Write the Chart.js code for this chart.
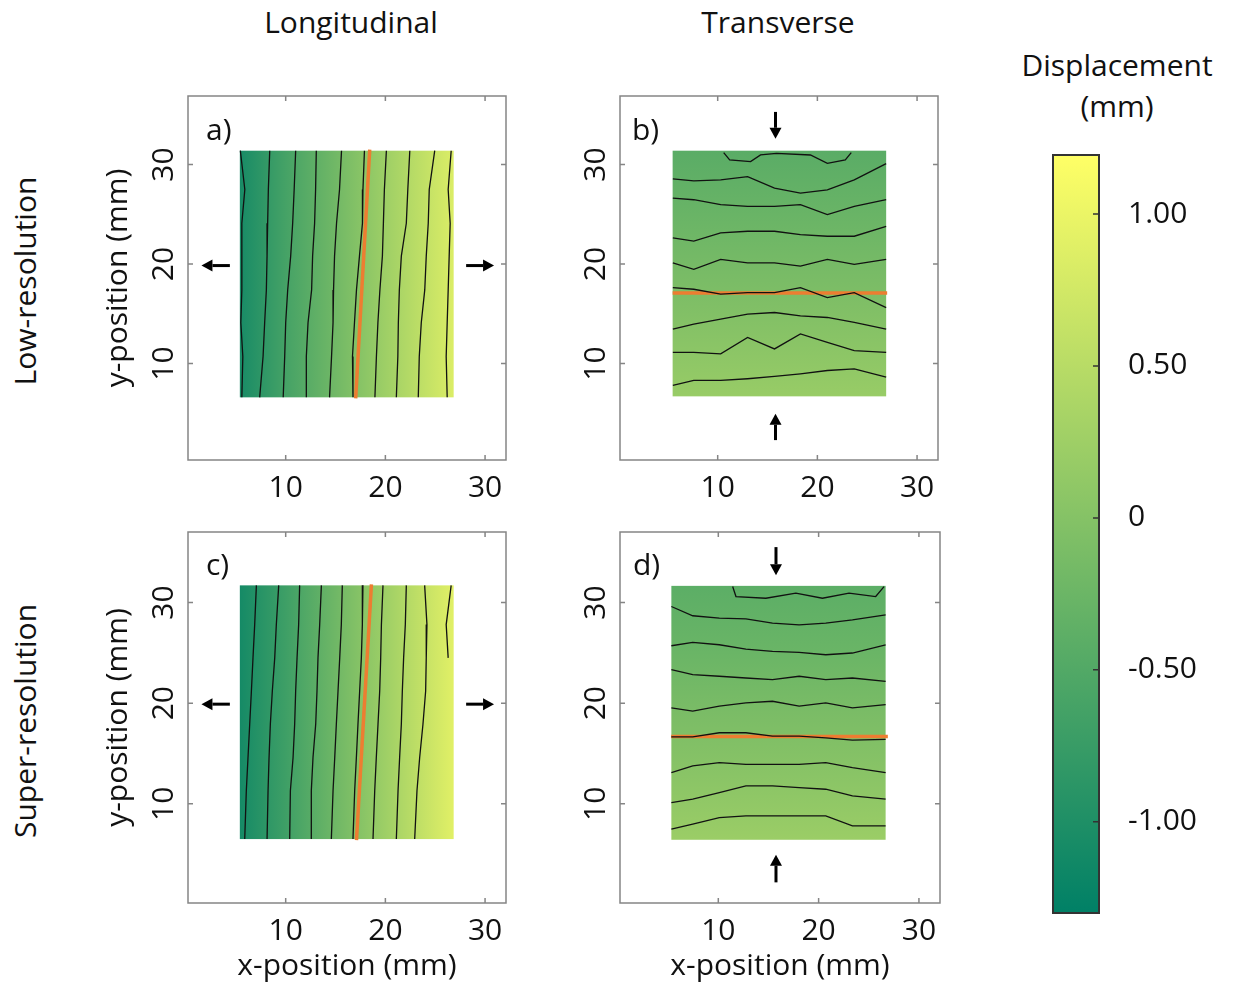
<!DOCTYPE html>
<html>
<head>
<meta charset="utf-8">
<script src="https://cdn.jsdelivr.net/npm/chart.js@4.4.1/dist/chart.umd.min.js"></script>
<style>
  body { margin: 0; background: #fff; width: 1236px; height: 984px; position: relative; overflow: hidden; font-family: 'Open Sans', sans-serif; }
  canvas { position: absolute; }
  .lbl { position: absolute; font-size: 30px; color: #111; white-space: nowrap; line-height: 1; transform: translate(-50%, -50%); }
  .rot { transform: translate(-50%, -50%) rotate(-90deg); }
</style>
</head>
<body>
<div class="lbl" style="left:351px; top:22px">Longitudinal</div>
<div class="lbl" style="left:778px; top:22px">Transverse</div>
<div class="lbl" style="left:1117px; top:65px">Displacement</div>
<div class="lbl" style="left:1117px; top:106px">(mm)</div>
<div class="lbl rot" style="left:25px; top:281px">Low-resolution</div>
<div class="lbl rot" style="left:25px; top:721px">Super-resolution</div>

<canvas id="panelA" width="438" height="450" style="left:100px; top:66px"></canvas>
<canvas id="panelB" width="438" height="450" style="left:532px; top:66px"></canvas>
<canvas id="panelC" width="438" height="482" style="left:100px; top:502px"></canvas>
<canvas id="panelD" width="440" height="482" style="left:532px; top:502px"></canvas>
<canvas id="colorbar" width="184" height="838" style="left:1052px; top:115px"></canvas>

<script>
// axis ticks (mm) and colour bar
const xTicks = [10, 20, 30];
const yTicks = [10, 20, 30];
const cbTicks = [-1, -0.5, 0, 0.5, 1];
const cbLabels = ['-1.00', '-0.50', '0', '0.50', '1.00'];
const V_MIN = -1.30, V_MAX = 1.194;

// a) longitudinal, low-res: displacement varies along x
const aExtentX = [5.4, 26.85], aExtentY = [6.6, 31.4];
const aHeatX = [5.4, 10, 15, 20, 25, 26.85];
const aHeatV = [-1.07, -0.63, -0.19, 0.25, 0.69, 0.84];
const aContourY = [31.4, 27.5, 24.1, 20.8, 17.4, 14.1, 10.7, 6.6];
const aContourX = [
  [5.45, 5.9, 5.6, 5.6, 5.6, 5.5, 5.7, 5.6],
  [8.4, 8.26, 8.19, 8.13, 8.06, 7.89, 7.73, 7.39],
  [11.0, 10.85, 10.7, 10.5, 10.2, 10.0, 9.9, 9.75],
  [13.07, 13.0, 12.9, 12.7, 12.6, 12.24, 12.07, 12.07],
  [15.6, 15.4, 15.1, 14.9, 14.8, 14.75, 14.6, 14.4],
  [17.9, 17.75, 17.7, 17.4, 17.1, 16.9, 16.7, 16.75],
  [20.1, 19.9, 19.8, 19.7, 19.45, 19.25, 19.1, 18.95],
  [22.45, 22.25, 22.1, 21.6, 21.4, 21.3, 21.25, 21.1],
  [24.95, 24.4, 24.3, 24.1, 23.95, 23.6, 23.4, 23.3],
  [26.6, 26.3, 26.5, 26.4, 26.3, 26.2, 26.1, 26.2]
];
const aCutX = [17.02, 18.43], aCutY = [6.5, 31.5];
const aArrows = [[4.4, 19.85, 1.55, 19.85], [28.1, 19.85, 30.9, 19.85]];

// b) transverse, low-res: displacement varies along y
const bExtentX = [5.48, 26.9], bExtentY = [6.7, 31.4];
const bHeatY = [6.7, 10, 15, 20, 25, 31.4];
const bHeatV = [0.19, 0.1, -0.03, -0.15, -0.27, -0.42];
const bContourX = [5.5, 7.6, 10.3, 13.0, 15.7, 18.3, 21.0, 23.7, 26.9];
const bContourY = [
  [28.57, 28.37, 28.47, 28.8, 27.63, 27.13, 27.47, 28.47, 30.1],
  [26.63, 26.47, 25.97, 25.8, 25.8, 25.97, 24.97, 25.8, 26.47],
  [22.63, 22.3, 23.13, 23.3, 23.3, 22.97, 22.8, 22.8, 23.8],
  [20.13, 19.47, 20.47, 20.13, 20.13, 19.8, 20.47, 19.97, 20.47],
  [17.63, 17.47, 16.97, 17.13, 17.13, 17.63, 16.63, 17.13, 15.63],
  [13.47, 13.97, 14.47, 14.97, 15.13, 14.8, 14.63, 14.13, 13.47],
  [11.13, 11.13, 10.97, 12.63, 11.47, 12.97, 12.13, 11.3, 11.13],
  [7.8, 8.3, 8.3, 8.47, 8.7, 8.97, 9.3, 9.47, 8.63]
];
const bTopX = [10.6, 11.2, 13.3, 14.3, 15.9, 19.3, 21.0, 22.8, 23.4];
const bTopY = [31.2, 30.47, 30.3, 30.97, 31.13, 30.97, 30.13, 30.47, 31.2];
const bCutX = [5.48, 27.0], bCutY = [17.1, 17.1];
const bArrows = [[15.8, 35.3, 15.8, 32.6], [15.8, 2.3, 15.8, 4.95]];

// c) longitudinal, super-res
const cExtentX = [5.4, 26.85], cExtentY = [6.5, 31.7];
const cHeatX = [5.4, 10, 15, 20, 25, 26.85];
const cHeatV = [-1.09, -0.69, -0.21, 0.25, 0.73, 0.9];
const cContourY = [31.7, 27.8, 24.5, 21.2, 17.9, 14.6, 11.3, 6.5];
const cContourX = [
  [7.06, 6.89, 6.72, 6.56, 6.39, 6.22, 6.05, 5.89],
  [9.3, 9.06, 8.9, 8.66, 8.46, 8.33, 8.23, 8.13],
  [11.4, 11.3, 11.14, 11.0, 10.9, 10.74, 10.47, 10.4],
  [13.58, 13.41, 13.24, 13.14, 13.01, 12.74, 12.57, 12.57],
  [15.68, 15.58, 15.42, 15.25, 15.08, 14.92, 14.75, 14.58],
  [17.75, 17.69, 17.59, 17.42, 17.25, 17.09, 16.92, 16.75],
  [19.76, 19.6, 19.53, 19.43, 19.26, 19.09, 18.93, 18.76],
  [22.1, 22.0, 21.83, 21.7, 21.6, 21.43, 21.27, 21.1],
  [23.94, 24.17, 24.1, 24.04, 23.77, 23.44, 23.17, 22.94],
  [26.6, 26.1, 26.3]
];
const cCutX = [17.1, 18.6], cCutY = [6.4, 31.8];
const cArrows = [[4.4, 19.9, 1.55, 19.9], [28.1, 19.9, 30.9, 19.9]];

// d) transverse, super-res
const dExtentX = [5.32, 26.68], dExtentY = [6.43, 31.65];
const dHeatY = [6.43, 10, 15, 20, 25, 31.65];
const dHeatV = [0.22, 0.12, -0.01, -0.13, -0.26, -0.4];
const dContourX = [5.32, 7.45, 10.1, 12.75, 15.4, 18.06, 20.71, 23.37, 26.68];
const dContourY = [
  [29.6, 28.68, 28.44, 28.38, 27.95, 27.78, 27.95, 28.28, 28.77],
  [25.7, 26.04, 25.8, 25.37, 25.14, 25.04, 24.81, 24.98, 25.8],
  [23.33, 22.83, 22.67, 22.5, 22.34, 22.67, 22.34, 22.5, 22.17],
  [19.53, 19.2, 19.7, 20.03, 20.19, 19.7, 20.03, 19.53, 19.86],
  [16.66, 16.66, 17.06, 17.06, 16.73, 16.73, 16.56, 16.33, 16.4],
  [13.1, 13.76, 14.09, 13.92, 13.92, 13.92, 14.09, 13.59, 13.1],
  [10.13, 10.46, 11.12, 11.78, 11.78, 11.61, 11.45, 10.79, 10.46],
  [7.49, 7.98, 8.64, 8.81, 8.81, 8.81, 8.81, 7.82, 7.82]
];
const dTopX = [11.43, 11.76, 14.74, 17.73, 20.38, 23.03, 25.69, 26.52];
const dTopY = [31.58, 30.59, 30.42, 30.92, 30.42, 30.92, 30.59, 31.58];
const dCutX = [5.3, 26.9], dCutY = [16.7, 16.7];
const dArrows = [[15.75, 35.5, 15.75, 32.7], [15.75, 2.2, 15.75, 4.95]];

Chart.defaults.font.family = "'Open Sans', sans-serif";
Chart.defaults.font.size = 30;
Chart.defaults.color = '#111';

// MATLAB "summer" map
function summer(v) {
    const t = Math.min(1, Math.max(0, (v - V_MIN) / (V_MAX - V_MIN)));
    return `rgb(${Math.round(255 * t)}, ${Math.round(127.5 + 127.5 * t)}, 102)`;
}

function pts(xs, ys) {
    const n = Math.min(xs.length, ys.length);
    const out = [];
    for (let i = 0; i < n; i++) out.push({ x: xs[i], y: ys[i] });
    return out;
}

const decor = {
    id: 'decor',
    beforeDatasetsDraw(chart, args, o) {
        const { ctx, scales: { x, y } } = chart;
        const h = o.heat;
        const l = x.getPixelForValue(h.x[0]), r = x.getPixelForValue(h.x[1]);
        const t = y.getPixelForValue(h.y[1]), b = y.getPixelForValue(h.y[0]);
        const s = h.axis === 'x' ? x : y;
        const p0 = s.getPixelForValue(h.pos[0]), p1 = s.getPixelForValue(h.pos[h.pos.length - 1]);
        const g = h.axis === 'x' ? ctx.createLinearGradient(p0, 0, p1, 0) : ctx.createLinearGradient(0, p0, 0, p1);
        h.pos.forEach((p, i) => g.addColorStop((s.getPixelForValue(p) - p0) / (p1 - p0), summer(h.val[i])));
        ctx.save();
        ctx.fillStyle = g;
        ctx.fillRect(l, t, r - l, b - t);
        ctx.restore();
    },
    afterDatasetsDraw(chart, args, o) {
        const { ctx, chartArea: ca, scales: { x, y } } = chart;
        ctx.save();
        // arrows
        ctx.fillStyle = '#000';
        ctx.strokeStyle = '#000';
        ctx.lineWidth = 3;
        o.arrows.forEach(([x0, y0, x1, y1]) => {
            const ax = x.getPixelForValue(x0), ay = y.getPixelForValue(y0);
            const bx = x.getPixelForValue(x1), by = y.getPixelForValue(y1);
            const ang = Math.atan2(by - ay, bx - ax);
            const hl = 11, hw = 6;
            ctx.beginPath();
            ctx.moveTo(ax, ay);
            ctx.lineTo(bx - hl * Math.cos(ang), by - hl * Math.sin(ang));
            ctx.stroke();
            ctx.beginPath();
            ctx.moveTo(bx, by);
            ctx.lineTo(bx - hl * Math.cos(ang) + hw * Math.sin(ang), by - hl * Math.sin(ang) - hw * Math.cos(ang));
            ctx.lineTo(bx - hl * Math.cos(ang) - hw * Math.sin(ang), by - hl * Math.sin(ang) + hw * Math.cos(ang));
            ctx.closePath();
            ctx.fill();
        });
        // frame with inward ticks
        ctx.strokeStyle = '#858585';
        ctx.lineWidth = 1.5;
        ctx.strokeRect(ca.left, ca.top, ca.right - ca.left, ca.bottom - ca.top);
        ctx.beginPath();
        x.ticks.forEach(tk => {
            const p = x.getPixelForValue(tk.value);
            ctx.moveTo(p, ca.bottom); ctx.lineTo(p, ca.bottom - 5);
            ctx.moveTo(p, ca.top); ctx.lineTo(p, ca.top + 5);
        });
        y.ticks.forEach(tk => {
            const p = y.getPixelForValue(tk.value);
            ctx.moveTo(ca.left, p); ctx.lineTo(ca.left + 5, p);
            ctx.moveTo(ca.right, p); ctx.lineTo(ca.right - 5, p);
        });
        ctx.stroke();
        // panel letter
        ctx.fillStyle = '#111';
        ctx.font = "30px 'Open Sans', sans-serif";
        ctx.textBaseline = 'alphabetic';
        ctx.fillText(o.label, ca.left + o.labelDx, ca.top + o.labelDy);
        ctx.restore();
    }
};

function makePanel(id, p) {
    const lines = p.contours.map(d => ({
        data: d, showLine: true, borderColor: '#111', borderWidth: 1.3, pointRadius: 0, tension: 0
    }));
    lines.push({ data: p.cut, showLine: true, borderColor: '#ED7D31', borderWidth: 3.5, pointRadius: 0 });
    new Chart(document.getElementById(id), {
        type: 'scatter',
        data: { datasets: lines },
        options: {
            responsive: false,
            animation: false,
            events: [],
            layout: { padding: { top: 30, right: p.padRight, left: 0, bottom: 0 } },
            plugins: {
                legend: { display: false },
                tooltip: { enabled: false },
                decor: { heat: p.heat, arrows: p.arrows, label: p.label, labelDx: p.labelDx, labelDy: p.labelDy }
            },
            scales: {
                x: {
                    type: 'linear', min: 0.2, max: 32.1,
                    grid: { display: false }, border: { display: false },
                    afterBuildTicks: s => { s.ticks = xTicks.map(v => ({ value: v })); },
                    ticks: { padding: 2 },
                    title: { display: p.xTitle, text: 'x-position (mm)', padding: 0 },
                    afterFit: s => { s.height = p.xH; }
                },
                y: {
                    type: 'linear', min: p.yMin, max: p.yMax,
                    grid: { display: false }, border: { display: false },
                    afterBuildTicks: s => { s.ticks = yTicks.map(v => ({ value: v })); },
                    ticks: { minRotation: 90, maxRotation: 90, crossAlign: 'center', padding: -2 },
                    title: { display: p.yTitle, text: 'y-position (mm)', padding: 0 },
                    afterFit: s => { s.width = 88; }
                }
            }
        },
        plugins: [decor]
    });
}

makePanel('panelA', {
    contours: aContourX.map(xs => pts(xs, aContourY)),
    cut: pts(aCutX, aCutY),
    heat: { x: aExtentX, y: aExtentY, axis: 'x', pos: aHeatX, val: aHeatV },
    arrows: aArrows, label: 'a)', labelDx: 18, labelDy: 44,
    yMin: 0.3, yMax: 36.9, xH: 56, padRight: 32, xTitle: false, yTitle: true
});
makePanel('panelB', {
    contours: bContourY.map(ys => pts(bContourX, ys)).concat([pts(bTopX, bTopY)]),
    cut: pts(bCutX, bCutY),
    heat: { x: bExtentX, y: bExtentY, axis: 'y', pos: bHeatY, val: bHeatV },
    arrows: bArrows, label: 'b)', labelDx: 12, labelDy: 44,
    yMin: 0.3, yMax: 36.9, xH: 56, padRight: 32, xTitle: false, yTitle: false
});
makePanel('panelC', {
    contours: cContourX.map(xs => pts(xs, cContourY)),
    cut: pts(cCutX, cCutY),
    heat: { x: cExtentX, y: cExtentY, axis: 'x', pos: cHeatX, val: cHeatV },
    arrows: cArrows, label: 'c)', labelDx: 18, labelDy: 43,
    yMin: 0.15, yMax: 37.0, xH: 81, padRight: 32, xTitle: true, yTitle: true
});
makePanel('panelD', {
    contours: dContourY.map(ys => pts(dContourX, ys)).concat([pts(dTopX, dTopY)]),
    cut: pts(dCutX, dCutY),
    heat: { x: dExtentX, y: dExtentY, axis: 'y', pos: dHeatY, val: dHeatV },
    arrows: dArrows, label: 'd)', labelDx: 13, labelDy: 43,
    yMin: 0.15, yMax: 37.0, xH: 81, padRight: 32, xTitle: true, yTitle: false
});

// colour bar
const cbDecor = {
    id: 'cbDecor',
    beforeDatasetsDraw(chart) {
        const { ctx, chartArea: ca, scales: { y } } = chart;
        const g = ctx.createLinearGradient(0, y.getPixelForValue(V_MIN), 0, y.getPixelForValue(V_MAX));
        g.addColorStop(0, summer(V_MIN));
        g.addColorStop(1, summer(V_MAX));
        ctx.save();
        ctx.fillStyle = g;
        ctx.fillRect(ca.left, ca.top, ca.right - ca.left, ca.bottom - ca.top);
        ctx.strokeStyle = '#333';
        ctx.lineWidth = 2;
        ctx.strokeRect(ca.left + 1, ca.top, ca.right - ca.left - 2, ca.bottom - ca.top);
        ctx.beginPath();
        y.ticks.forEach(tk => {
            const p = y.getPixelForValue(tk.value);
            ctx.moveTo(ca.right - 1, p); ctx.lineTo(ca.right - 7, p);
        });
        ctx.lineWidth = 1.5;
        ctx.stroke();
        ctx.restore();
    }
};

new Chart(document.getElementById('colorbar'), {
    type: 'scatter',
    data: { datasets: [] },
    options: {
        responsive: false,
        animation: false,
        events: [],
        layout: { padding: { top: 40, bottom: 40, left: 0, right: 0 } },
        plugins: { legend: { display: false }, tooltip: { enabled: false } },
        scales: {
            x: { display: false, min: 0, max: 1 },
            y: {
                position: 'right', min: V_MIN, max: V_MAX,
                grid: { display: false }, border: { display: false },
                afterBuildTicks: s => { s.ticks = cbTicks.map(v => ({ value: v })); },
                ticks: { padding: 20, callback: (v, i) => cbLabels[i] },
                afterFit: s => { s.width = 136; }
            }
        }
    },
    plugins: [cbDecor]
});
</script>
</body>
</html>
